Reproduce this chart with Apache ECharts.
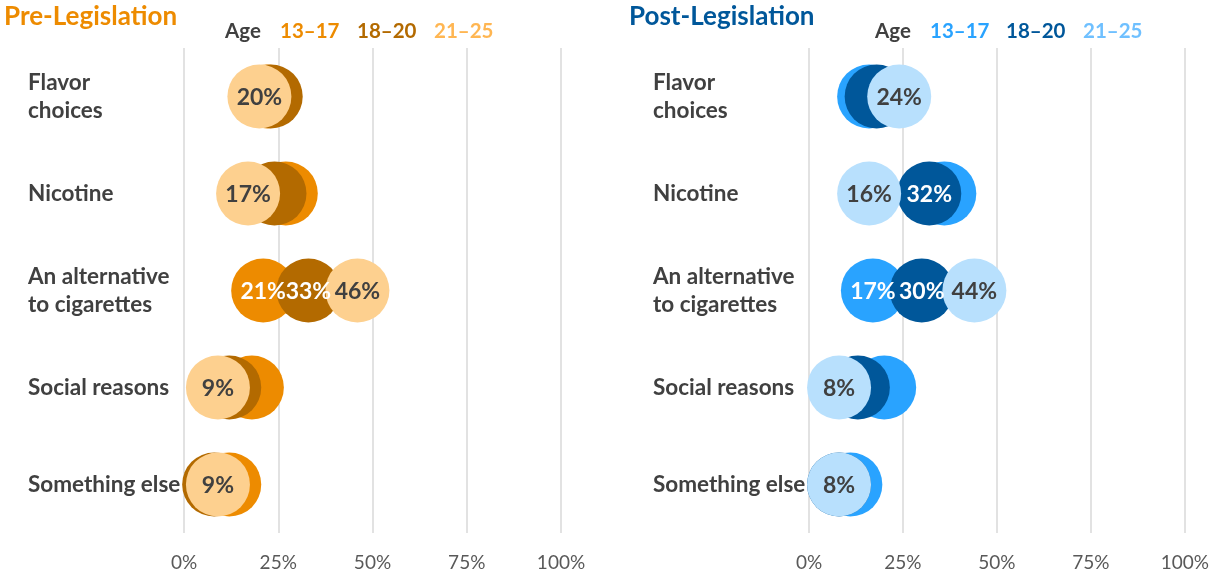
<!DOCTYPE html>
<html>
<head>
<meta charset="utf-8">
<script src="https://cdn.jsdelivr.net/npm/echarts@6/dist/echarts.min.js"></script>
<style>
  html, body { margin: 0; padding: 0; background: #ffffff; }
  #chart { width: 1212px; height: 574px; }
</style>
</head>
<body>
<div id="chart"></div>
<script>
// Reasons for vaping, share of respondents by age group, before and after legislation
const categories = ['Flavor\nchoices', 'Nicotine', 'An alternative\nto cigarettes', 'Social reasons', 'Something else'];
const ageGroups = ['13–17', '18–20', '21–25'];
const xTicks = [0, 25, 50, 75, 100];

// Pre-legislation (%)
const pre13to17 = [22, 27, 21, 18, 12];
const pre18to20 = [23, 24, 33, 12, 8];
const pre21to25 = [20, 17, 46, 9, 9];

// Post-legislation (%)
const post13to17 = [16, 36, 17, 20, 11];
const post18to20 = [18, 32, 30, 13, 8];
const post21to25 = [24, 16, 44, 8, 8];

// Which points carry a value label
const preLabel13to17 = [false, false, true, false, false];
const preLabel18to20 = [false, false, true, false, false];
const preLabel21to25 = [true, true, true, true, true];
const postLabel13to17 = [false, false, true, false, false];
const postLabel18to20 = [false, true, true, false, false];
const postLabel21to25 = [true, true, true, true, true];

const preColors = ['#ED8B00', '#B36A00', '#FDD08F'];
const preLegendColors = ['#ED8B00', '#B36A00', '#FFB652'];
const postColors = ['#29A3FF', '#00579A', '#B8E0FD'];
const postLegendColors = ['#29A3FF', '#00579A', '#6FC0FF'];
const labelTextColors = ['#ffffff', '#ffffff', '#404040'];

const FONT = 'Lato, "Open Sans", "Noto Sans", sans-serif';
const DARK = '#404040';

function makeSeries(values, shown, color, labelColor, idx, name) {
  return {
    type: 'scatter',
    name: name,
    xAxisIndex: idx,
    yAxisIndex: idx,
    symbol: 'circle',
    symbolSize: 64,
    z: 2,
    silent: true,
    itemStyle: { color: color, opacity: 1 },
    data: values.map((v, i) => ({
      value: [v, i],
      label: {
        show: shown[i],
        position: 'inside',
        offset: [0, 1],
        formatter: v + '%',
        color: labelColor,
        fontFamily: FONT,
        fontWeight: 'bold',
        fontSize: 23
      }
    }))
  };
}

function xAxis(idx) {
  return {
    type: 'value',
    gridIndex: idx,
    min: 0,
    max: 100,
    interval: 25,
    axisLine: { show: false },
    axisTick: { show: false },
    splitLine: { show: true, lineStyle: { color: '#D9D9D9', width: 1.5 } },
    axisLabel: {
      margin: 20,
      formatter: v => (xTicks.includes(v) ? v + '%' : ''),
      color: '#595959',
      fontFamily: FONT,
      fontSize: 19
    }
  };
}

function yAxis(idx) {
  return {
    type: 'category',
    gridIndex: idx,
    data: categories,
    inverse: true,
    axisLine: { show: false },
    axisTick: { show: false },
    splitLine: { show: false },
    axisLabel: {
      align: 'left',
      margin: 156,
      color: DARK,
      fontFamily: FONT,
      fontWeight: 'bold',
      fontSize: 22.5,
      lineHeight: 28,
      padding: [11, 0, 0, 0]
    }
  };
}

function legendTexts(x0, xs, colors) {
  const items = [{
    type: 'text', left: x0, top: 21,
    style: { text: 'Age', fill: DARK, font: 'bold 20.5px ' + FONT }
  }];
  ageGroups.forEach((g, i) => {
    items.push({
      type: 'text', left: xs[i], top: 21,
      style: { text: g, fill: colors[i], font: 'bold 20.5px ' + FONT }
    });
  });
  return items;
}

const chart = echarts.init(document.getElementById('chart'), null, { renderer: 'canvas' });

chart.setOption({
  animation: false,
  backgroundColor: '#ffffff',
  grid: [
    { left: 184, top: 48, width: 377, height: 485 },
    { left: 809, top: 48, width: 376, height: 485 }
  ],
  xAxis: [xAxis(0), xAxis(1)],
  yAxis: [yAxis(0), yAxis(1)],
  graphic: [
    { type: 'text', left: 4, top: 4, style: { text: 'Pre-Legislation', fill: '#ED8B00', font: 'bold 26px ' + FONT } },
    { type: 'text', left: 629, top: 4, style: { text: 'Post-Legislation', fill: '#00579A', font: 'bold 26px ' + FONT } },
    ...legendTexts(225, [280, 357, 434], preLegendColors),
    ...legendTexts(875, [930, 1006, 1083], postLegendColors)
  ],
  series: [
    makeSeries(pre13to17, preLabel13to17, preColors[0], labelTextColors[0], 0, ageGroups[0]),
    makeSeries(pre18to20, preLabel18to20, preColors[1], labelTextColors[1], 0, ageGroups[1]),
    makeSeries(pre21to25, preLabel21to25, preColors[2], labelTextColors[2], 0, ageGroups[2]),
    makeSeries(post13to17, postLabel13to17, postColors[0], labelTextColors[0], 1, ageGroups[0]),
    makeSeries(post18to20, postLabel18to20, postColors[1], labelTextColors[1], 1, ageGroups[1]),
    makeSeries(post21to25, postLabel21to25, postColors[2], labelTextColors[2], 1, ageGroups[2])
  ]
});
</script>
</body>
</html>
